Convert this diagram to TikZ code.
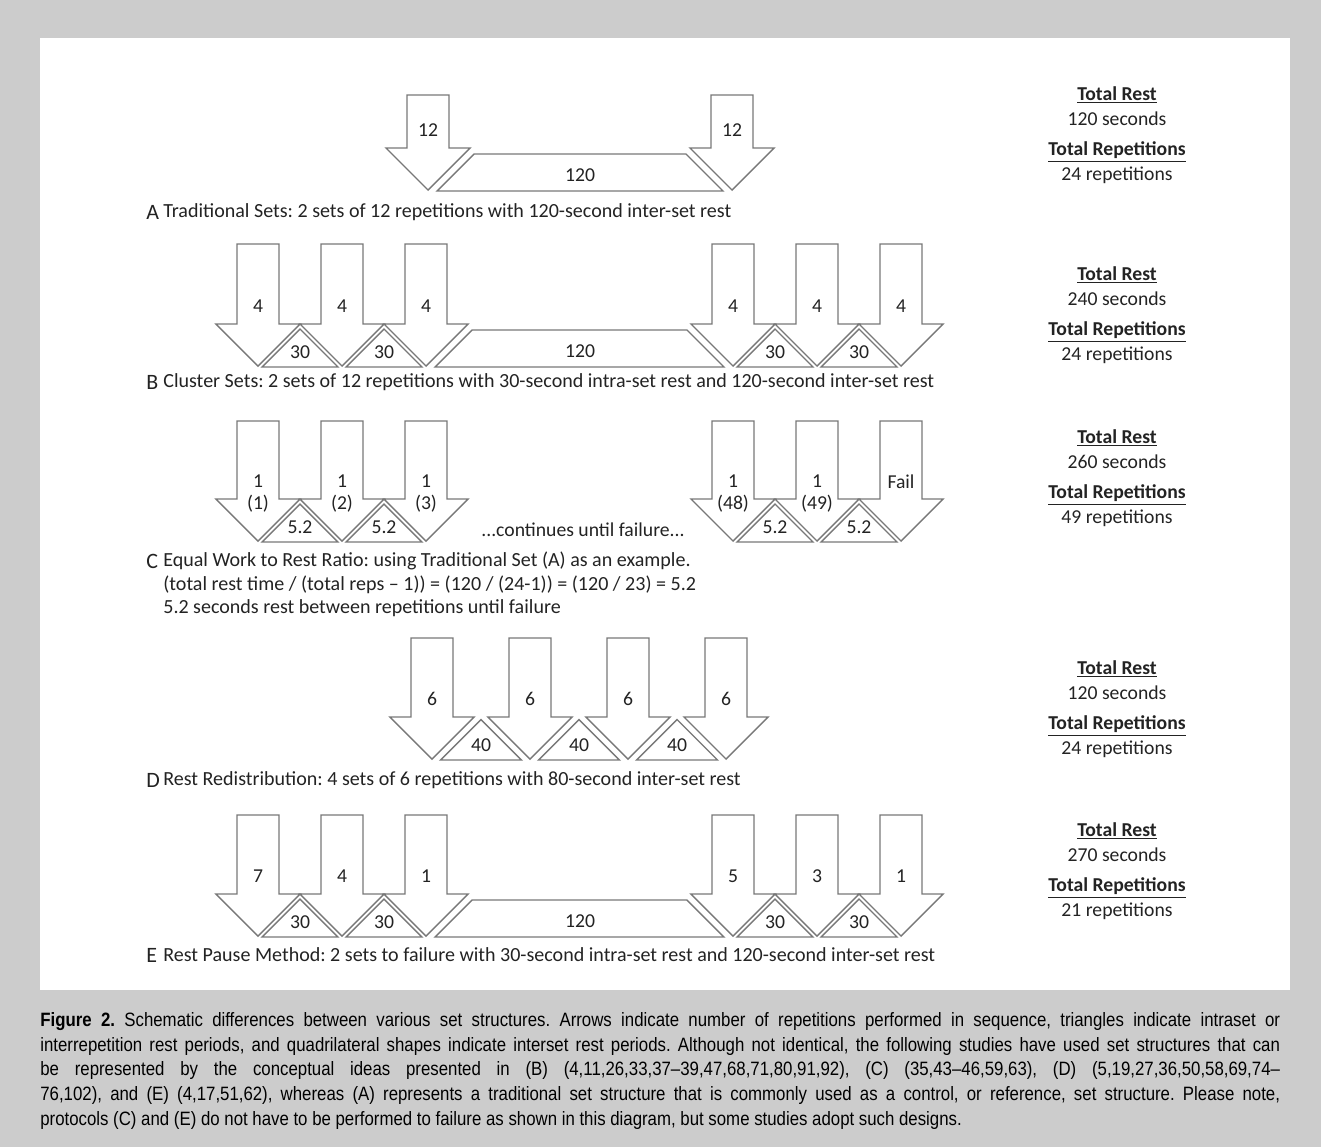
\documentclass[tikz,border=0pt]{standalone}
\usepackage{fontspec}
\setmainfont{Carlito}
\newfontfamily\legenda[FakeStretch=0.87]{Liberation Sans}
\definecolor{cinza}{RGB}{204,204,204}
\definecolor{contorno}{RGB}{120,120,120}
\definecolor{tinta}{RGB}{35,35,35}
\frenchspacing
\begin{document}
\begin{tikzpicture}[x=0.02cm, y=-0.02cm,
        font=\fontsize{11.2}{13}\selectfont, text=tinta,
        seta/.style={draw=contorno, fill=white, line width=0.8pt},
        pausa/.style={draw=contorno, fill=white, line width=0.8pt},
        num/.style={inner sep=0pt},
        letra/.style={anchor=west, inner sep=0pt, font=\fontsize{12.5}{14}\selectfont},
        rotulo/.style={anchor=west, inner sep=0pt, font=\fontsize{11.4}{13}\selectfont},
        total/.style={inner sep=0pt}]
    % fundo e painel
    \fill[cinza] (0,0) rectangle (1321,1147);
    \fill[white] (40,38) rectangle (1290,990);
    % setas: nome/centro/topo/cabeca/repeticoes
    \foreach \n/\c/\t/\h/\rep in {
        a1/428/95/148/12, a2/732/95/148/12,
        b1/258/244/324/4, b2/342/244/324/4, b3/426/244/324/4,
        b4/733/244/324/4, b5/817/244/324/4, b6/901/244/324/4,
        c1/258/421/499/, c2/342/421/499/, c3/426/421/499/,
        c4/733/421/499/, c5/817/421/499/, c6/901/421/499/,
        d1/432/638/717/6, d2/530/638/717/6, d3/628/638/717/6, d4/726/638/717/6,
        e1/258/815/894/7, e2/342/815/894/4, e3/426/815/894/1,
        e4/733/815/894/5, e5/817/815/894/3, e6/901/815/894/1}{
        \draw[seta] (\c-21,\t) -- (\c+21,\t) -- (\c+21,\h) -- (\c+42,\h)
            -- (\c,\h+42) -- (\c-42,\h) -- (\c-21,\h) -- cycle;
        \node[num] (s\n) at (\c,\h-18) {\rep};
    }
    % rotulos da linha C
    \foreach \n/\c/\rep in {c1/258/1\\(1), c2/342/1\\(2), c3/426/1\\(3),
        c4/733/1\\(48), c5/817/1\\(49), c6/901/Fail}{
        \node[num, anchor=north, align=center] (r\n) at (\c,474) {\rep};
    }
    % triangulos: nome/esquerda/direita/cabeca/folga/descanso
    \foreach \n/\a/\b/\h/\d/\val in {
        b1/258/342/324/5/30, b2/342/426/324/5/30, b3/733/817/324/5/30, b4/817/901/324/5/30,
        c1/258/342/499/5/5.2, c2/342/426/499/5/5.2, c3/733/817/499/5/5.2, c4/817/901/499/5/5.2,
        d1/432/530/717/9.5/40, d2/530/628/717/9.5/40, d3/628/726/717/9.5/40,
        e1/258/342/894/5/30, e2/342/426/894/5/30, e3/733/817/894/5/30, e4/817/901/894/5/30}{
        \draw[pausa] (\a+\d-1,\h+43) -- ({(\a+\b)/2},{\h+42+\d-(\b-\a)/2})
            -- (\b-\d+1,\h+43) -- cycle;
        \node[num] (t\n) at ({(\a+\b)/2},\h+28) {\val};
    }
    % quadrilateros entre series
    \foreach \n/\a/\b/\h in {a/428/732/148, b/426/733/324, e/426/733/894}{
        \draw[pausa] (\a+9,\h+43) -- (\a+46,\h+6) -- (\b-46,\h+6) -- (\b-9,\h+43) -- cycle;
        \node[num] (q\n) at (580,\h+27) {120};
    }
    \node[num] (cont) at (583,530) {...continues until failure...};
    % legendas das linhas
    \foreach \n/\y/\txt in {
        A/212/Traditional Sets: 2 sets of 12 repetitions with 120-second inter-set rest,
        B/382/Cluster Sets: 2 sets of 12 repetitions with 30-second intra-set rest and 120-second inter-set rest,
        C/561/Equal Work to Rest Ratio: using Traditional Set (A) as an example.,
        D/780/Rest Redistribution: 4 sets of 6 repetitions with 80-second inter-set rest,
        E/955/Rest Pause Method: 2 sets to failure with 30-second intra-set rest and 120-second inter-set rest}{
        \node[letra] (l\n) at (146,\y) {\n};
        \node[rotulo] (x\n) at (163,\y) {\txt};
    }
    \node[rotulo] (xC2) at (163,585) {(total rest time / (total reps – 1)) = (120 / (24-1)) = (120 / 23) = 5.2};
    \node[rotulo] (xC3) at (163,608) {5.2 seconds rest between repetitions until failure};
    % totais
    \foreach \n/\y/\rest/\reps in {A/95/120/24, B/275/240/24, C/438/260/49, D/669/120/24, E/831/270/21}{
        \node[total] (tr\n) at (1117,\y) {\underline{\textbf{Total Rest}}};
        \node[total] (ts\n) at (1117,\y+24) {\rest\ seconds};
        \node[total] (tp\n) at (1117,\y+57) {\underline{\textbf{Total Repetitions}}};
        \node[total] (tn\n) at (1117,\y+80) {\reps\ repetitions};
    }
    % legenda da figura
    \node[anchor=north west, inner sep=0pt, text width=24.8cm, align=justify,
        font=\legenda\fontsize{11}{14.06}\selectfont, text=black] (fig) at (40,1012) {%
        \textbf{Figure 2.} Schematic differences between various set structures. Arrows indicate number of repetitions performed in sequence, triangles indicate intraset or\linebreak
        interrepetition rest periods, and quadrilateral shapes indicate interset rest periods. Although not identical, the following studies have used set structures that can\linebreak
        be represented by the conceptual ideas presented in (B) (4,11,26,33,37–39,47,68,71,80,91,92), (C) (35,43–46,59,63), (D) (5,19,27,36,50,58,69,74–\linebreak
        76,102), and (E) (4,17,51,62), whereas (A) represents a traditional set structure that is commonly used as a control, or reference, set structure. Please note,\linebreak
        protocols (C) and (E) do not have to be performed to failure as shown in this diagram, but some studies adopt such designs.};
\end{tikzpicture}
\end{document}
